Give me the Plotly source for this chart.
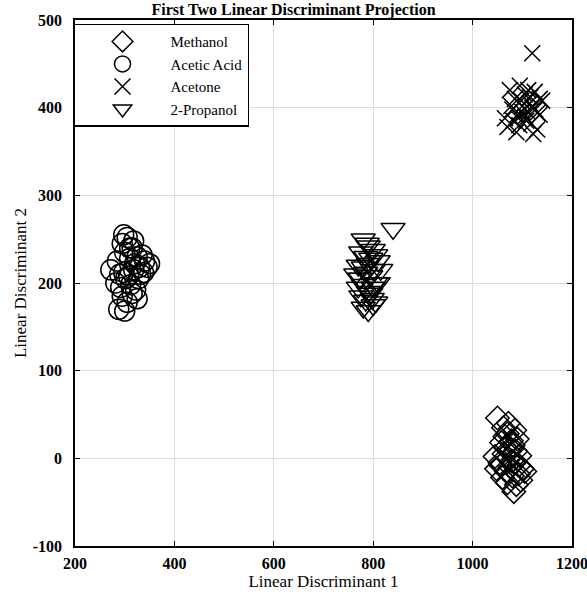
import plotly.graph_objects as go

# Methanol (diamonds)
meth_x = [1050, 1062, 1070, 1078, 1085, 1058, 1066, 1074, 1082, 1090, 1045, 1055, 1063, 1071, 1079, 1087,
          1095, 1048, 1057, 1068, 1076, 1084, 1092, 1100, 1060, 1070, 1080, 1088, 1097, 1105, 1072, 1083,
          1065, 1093, 1078]
meth_y = [46, 35, 28, 20, 32, 18, 12, 8, 15, 22, 2, -5, 5, 0, -3, 8,
          3, -12, -8, -15, -10, -5, -18, -12, -22, -28, -20, -30, -25, -15, 40, -38,
          25, -8, 10]

# Acetic Acid (circles)
ac_x = [272, 285, 295, 305, 315, 325, 300, 310, 320, 330, 340, 290, 298, 308, 318, 328, 338, 350,
        282, 292, 302, 312, 322, 332, 295, 305, 315, 325, 288, 300, 310, 335, 345, 298, 318]
ac_y = [215, 225, 245, 252, 240, 230, 235, 228, 222, 218, 225, 210, 212, 208, 215, 205, 212, 222,
        200, 195, 205, 198, 192, 210, 185, 178, 188, 182, 170, 168, 240, 232, 218, 255, 248]

# Acetone (crosses)
acet_x = [1120, 1065, 1075, 1085, 1095, 1105, 1115, 1125, 1135, 1080, 1090, 1100, 1110, 1120, 1130,
          1140, 1070, 1082, 1094, 1106, 1118, 1130, 1088, 1098, 1108, 1116, 1126, 1078, 1100, 1122,
          1112, 1092, 1135]
acet_y = [462, 388, 420, 410, 425, 415, 405, 418, 410, 398, 392, 402, 396, 400, 394,
          408, 378, 385, 380, 390, 382, 375, 372, 408, 385, 412, 398, 402, 395, 370,
          420, 388, 392]

# 2-Propanol (down triangles)
prop_x = [840, 780, 790, 800, 775, 785, 795, 805, 770, 780, 790, 800, 810, 765, 775, 785, 795,
          805, 815, 770, 780, 790, 800, 810, 775, 785, 795, 805, 780, 790, 800, 788, 798, 772]
prop_y = [262, 250, 242, 238, 235, 230, 228, 232, 220, 218, 222, 215, 225, 210, 205, 212, 208,
          200, 215, 195, 198, 190, 195, 200, 185, 180, 188, 178, 172, 168, 175, 245, 182, 205]

x_ticks = [200, 400, 600, 800, 1000, 1200]
x_labels = ["200", "400", "600", "800", "1000", "1200"]
y_ticks = [-100, 0, 100, 200, 300, 400, 500]
y_labels = ["-100", "0", "100", "200", "300", "400", "500"]

FONT = "Liberation Serif"
series = [
    ("Methanol", meth_x, meth_y, "diamond-open", 18),
    ("Acetic Acid", ac_x, ac_y, "circle-open", 20),
    ("Acetone", acet_x, acet_y, "x-thin-open", 16),
    ("2-Propanol", prop_x, prop_y, "triangle-down-open", 21),
]

fig = go.Figure()
for name, xs, ys, sym, sz in series:
    fig.add_trace(go.Scatter(
        x=xs, y=ys, mode="markers", name=name,
        marker=dict(symbol=sym, size=sz, color="black", line=dict(color="black", width=1.5)),
    ))

axis_common = dict(
    showgrid=True, gridcolor="#dcdcdc", gridwidth=1,
    showline=True, linecolor="black", linewidth=1.5, mirror="ticks",
    ticks="inside", ticklen=5, tickcolor="black", zeroline=False,
    automargin=False, ticklabeloverflow="allow",
    tickfont=dict(family=FONT, size=16, color="black", weight="bold"),
    title_font=dict(family=FONT, size=17, color="black"),
)

fig.update_layout(
    width=587, height=599,
    margin=dict(l=75, r=15, t=20, b=53),
    paper_bgcolor="white", plot_bgcolor="white",
    title=dict(text="<b>First Two Linear Discriminant Projection</b>",
               font=dict(family=FONT, size=16, color="black"),
               x=0.5, xanchor="center", y=0.984, yanchor="middle"),
    xaxis=dict(range=[200, 1200], tickvals=x_ticks, ticktext=x_labels,
               ticklabelstandoff=2,
               title=dict(text="Linear Discriminant 1", standoff=2), **axis_common),
    yaxis=dict(range=[-100, 500], tickvals=y_ticks, ticktext=y_labels,
               ticklabelstandoff=8,
               title=dict(text="Linear Discriminant 2", standoff=2), **axis_common),
    legend=dict(x=-0.004, y=0.993, xanchor="left", yanchor="top",
                bgcolor="white", bordercolor="black", borderwidth=1.5,
                font=dict(family=FONT, size=15, color="black"),
                itemwidth=86, itemsizing="trace", tracegroupgap=0),
    showlegend=True,
)

fig.write_html("out.html")
